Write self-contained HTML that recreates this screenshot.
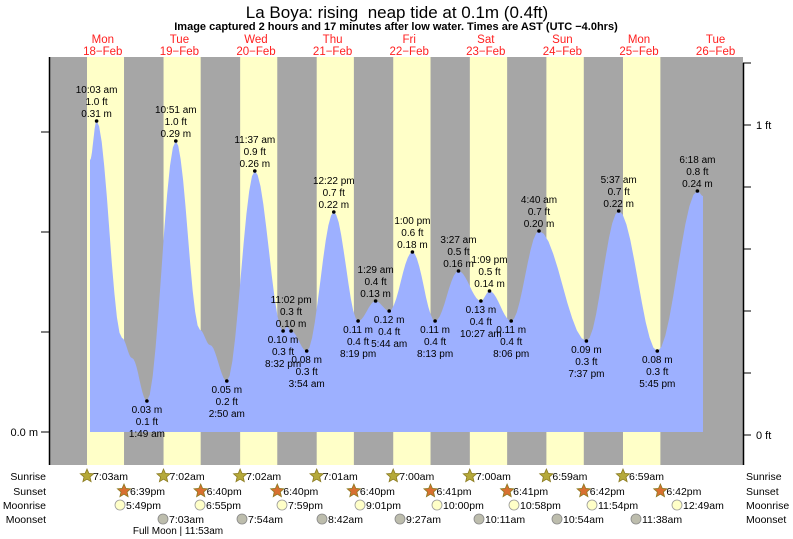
<!DOCTYPE html>
<html><head><meta charset="utf-8"><style>
html,body{margin:0;padding:0;background:#fff;}
svg{display:block;font-family:"Liberation Sans",sans-serif;}
</style></head><body>
<svg id="s" width="793" height="539" viewBox="0 0 793 539" xmlns="http://www.w3.org/2000/svg">
<text x="397" y="18" font-size="17" text-anchor="middle">La Boya: rising&#160; neap tide at 0.1m (0.4ft)</text>
<text x="396" y="30" font-size="11" font-weight="bold" text-anchor="middle">Image captured 2 hours and 17 minutes after low water. Times are AST (UTC −4.0hrs)</text>
<g id="g"></g>
</svg>
<script>
var g=document.getElementById('g'),h='';
var X0=64.5,D=76.6,T=57,B=465,Z=432;
function tx(d,hh,mm){return X0+D*d+(hh+mm/60)/24*D;}
h+='<rect x="49" y="'+T+'" width="694" height="'+(B-T)+'" fill="#a6a6a6"/>';
var sr=[[7,3],[7,2],[7,2],[7,1],[7,0],[7,0],[6,59],[6,59]];
var ss=[[18,39],[18,40],[18,40],[18,40],[18,41],[18,41],[18,42],[18,42]];
for(var d=0;d<8;d++){var a=tx(d,sr[d][0],sr[d][1]),b=tx(d,ss[d][0],ss[d][1]);
h+='<rect x="'+a+'" y="'+T+'" width="'+(b-a)+'" height="'+(B-T)+'" fill="#ffffc8"/>';}
var days=['Mon','Tue','Wed','Thu','Fri','Sat','Sun','Mon','Tue'];
for(d=0;d<9;d++){var c=X0+D*d+D/2;h+='<text x="'+c+'" y="43" font-size="11.5" fill="#ff2020" text-anchor="middle">'+days[d]+'</text><text x="'+c+'" y="55" font-size="11.5" fill="#ff2020" text-anchor="middle">'+(18+d)+'−Feb</text>';}
var P=[[90,160],[96.6,121],[122,338],[132,358],[146.9,401],[175.8,141],[200,330],[210,345],[226.8,381],[254.8,171],[283.1,331],[287,327],[291.1,331],[306.7,351],[333.8,212],[358.1,321],[375.6,301],[389.2,311],[412.4,252],[435.1,321],[458.5,271],[480.9,301],[489.5,291],[511.2,321],[539,231],[586.4,341],[618.7,211],[657.3,351],[697.4,191],[703,196]];
var p='M90 '+Z+' L90 160';
for(var i=0;i<P.length-1;i++){var x1=P[i][0],y1=P[i][1],x2=P[i+1][0],y2=P[i+1][1];for(var k=1;k<=10;k++){var t=k/10;var x=x1+(x2-x1)*t;var y=y1+(y2-y1)*(1-Math.cos(Math.PI*t))/2;p+=' L'+x.toFixed(1)+' '+y.toFixed(1);}}
p+=' L703 '+Z+' Z';
h+='<path d="'+p+'" fill="#9db0ff"/>';
var L=[[96.6,121,1,'10:03 am','1.0 ft','0.31 m'],[146.9,401,0,'0.03 m','0.1 ft','1:49 am'],[175.8,141,1,'10:51 am','1.0 ft','0.29 m'],[226.8,381,0,'0.05 m','0.2 ft','2:50 am'],[254.8,171,1,'11:37 am','0.9 ft','0.26 m'],[283.1,331,0,'0.10 m','0.3 ft','8:32 pm'],[291.1,331,1,'11:02 pm','0.3 ft','0.10 m'],[306.7,351,0,'0.08 m','0.3 ft','3:54 am'],[333.8,212,1,'12:22 pm','0.7 ft','0.22 m'],[358.1,321,0,'0.11 m','0.4 ft','8:19 pm'],[375.6,301,1,'1:29 am','0.4 ft','0.13 m'],[389.2,311,0,'0.12 m','0.4 ft','5:44 am'],[412.4,252,1,'1:00 pm','0.6 ft','0.18 m'],[435.1,321,0,'0.11 m','0.4 ft','8:13 pm'],[458.5,271,1,'3:27 am','0.5 ft','0.16 m'],[480.9,301,0,'0.13 m','0.4 ft','10:27 am'],[489.5,291,1,'1:09 pm','0.5 ft','0.14 m'],[511.2,321,0,'0.11 m','0.4 ft','8:06 pm'],[539,231,1,'4:40 am','0.7 ft','0.20 m'],[586.4,341,0,'0.09 m','0.3 ft','7:37 pm'],[618.7,211,1,'5:37 am','0.7 ft','0.22 m'],[657.3,351,0,'0.08 m','0.3 ft','5:45 pm'],[697.4,191,1,'6:18 am','0.8 ft','0.24 m']];
L.forEach(function(l){h+='<circle cx="'+l[0]+'" cy="'+l[1]+'" r="1.8" fill="#000"/>';var ys=l[2]?[l[1]-28,l[1]-16,l[1]-4]:[l[1]+12,l[1]+24,l[1]+36];for(var j=0;j<3;j++)h+='<text x="'+l[0]+'" y="'+ys[j]+'" font-size="10" text-anchor="middle">'+l[3+j]+'</text>';});
h+='<line x1="49.5" y1="'+T+'" x2="49.5" y2="'+B+'" stroke="#000" stroke-width="1.5"/><line x1="743.5" y1="63" x2="743.5" y2="'+B+'" stroke="#000" stroke-width="1.5"/>';
for(var y=Z;y>T;y-=100)h+='<line x1="41" y1="'+y+'" x2="49" y2="'+y+'" stroke="#000"/>';
for(y=435;y>T;y-=62)h+='<line x1="743" y1="'+y+'" x2="751" y2="'+y+'" stroke="#000"/>';
h+='<text x="38" y="436" font-size="11" text-anchor="end">0.0 m</text><text x="756" y="439" font-size="11">0 ft</text><text x="756" y="129" font-size="11">1 ft</text>';
var rows=[['Sunrise',480],['Sunset',495],['Moonrise',509],['Moonset',523]];
rows.forEach(function(r){h+='<text x="46" y="'+r[1]+'" font-size="10.5" text-anchor="end">'+r[0]+'</text><text x="746" y="'+r[1]+'" font-size="10.5">'+r[0]+'</text>';});
function star(x,y,f){var s='';for(var i=0;i<10;i++){var a=-Math.PI/2+i*Math.PI/5,r=i%2?3.2:7;s+=(x+r*Math.cos(a)).toFixed(1)+','+(y+r*Math.sin(a)).toFixed(1)+' ';}return '<polygon points="'+s+'" fill="'+f+'" stroke="#8a7a20" stroke-width="0.8"/>';}
var srs=['7:03am','7:02am','7:02am','7:01am','7:00am','7:00am','6:59am','6:59am'];
for(d=0;d<8;d++){var x=tx(d,sr[d][0],sr[d][1]);h+=star(x,476,'#b5a93a')+'<text x="'+(x+6)+'" y="480" font-size="10.5">'+srs[d]+'</text>';}
var sss=['6:39pm','6:40pm','6:40pm','6:40pm','6:41pm','6:41pm','6:42pm','6:42pm'];
for(d=0;d<8;d++){var x=tx(d,ss[d][0],ss[d][1]);h+=star(x,491,'#d87030')+'<text x="'+(x+6)+'" y="495" font-size="10.5">'+sss[d]+'</text>';}
var mr=[[120,'5:49pm'],[200,'6:55pm'],[282,'7:59pm'],[360,'9:01pm'],[437,'10:00pm'],[514,'10:58pm'],[592,'11:54pm'],[677,'12:49am']];
mr.forEach(function(m){h+='<circle cx="'+m[0]+'" cy="505" r="5" fill="#ffffc8" stroke="#999" stroke-width="0.8"/><text x="'+(m[0]+6)+'" y="509" font-size="10.5">'+m[1]+'</text>';});
var ms=[[163,'7:03am'],[242,'7:54am'],[322,'8:42am'],[400,'9:27am'],[479,'10:11am'],[557,'10:54am'],[636,'11:38am']];
ms.forEach(function(m){h+='<circle cx="'+m[0]+'" cy="519" r="5" fill="#bdbdad" stroke="#888" stroke-width="0.8"/><text x="'+(m[0]+6)+'" y="523" font-size="10.5">'+m[1]+'</text>';});
h+='<text x="178" y="534" font-size="10" text-anchor="middle">Full Moon | 11:53am</text>';
g.innerHTML=h;
</script>
</body></html>
